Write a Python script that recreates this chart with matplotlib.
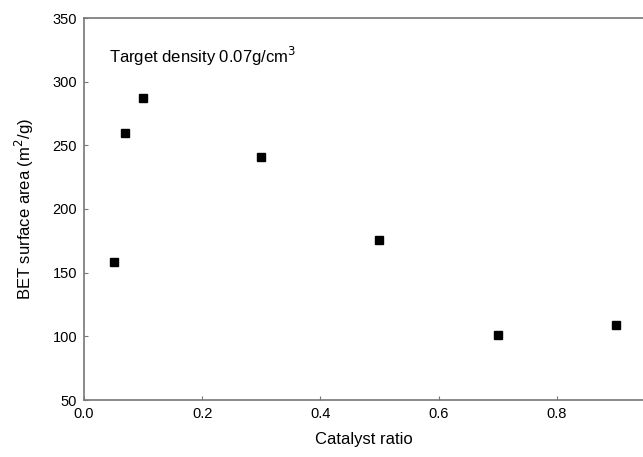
import matplotlib
matplotlib.use("Agg")
from matplotlib import pyplot as plt

catalyst_ratio = [0.05, 0.07, 0.10, 0.30, 0.50, 0.70, 0.90]
bet_area = [158, 260, 287, 241, 176, 101, 109]

plt.rcParams['font.family'] = ['Liberation Sans', 'DejaVu Sans']

fig = plt.figure(figsize=(6.43, 4.57), dpi=100)
ax = fig.add_axes([84 / 643, 57 / 457, 1 - 84 / 643, 382 / 457])

ax.plot(catalyst_ratio, bet_area, 's', color='black', markersize=6)

ax.set_xlim(0, 0.946)
ax.set_ylim(50, 350)
ax.set_xticks([0.0, 0.2, 0.4, 0.6, 0.8])
ax.set_yticks(range(50, 351, 50))
ax.tick_params(direction='in', length=3, color='#777777', labelsize=10.5)
ax.tick_params(axis='x', pad=5)
ax.tick_params(axis='y', pad=5)

for side in ['left', 'bottom', 'top']:
    ax.spines[side].set_color('#777777')
    ax.spines[side].set_linewidth(1.2)
ax.spines['right'].set_visible(False)

ax.set_xlabel('Catalyst ratio', fontsize=12, labelpad=8)
ax.set_ylabel('BET surface area (m$^2$/g)', fontsize=12, labelpad=12)
ax.text(0.045, 0.9, 'Target density 0.07g/cm$^3$', transform=ax.transAxes,
        fontsize=12, va='center')

fig.savefig('out.png', dpi=100)
